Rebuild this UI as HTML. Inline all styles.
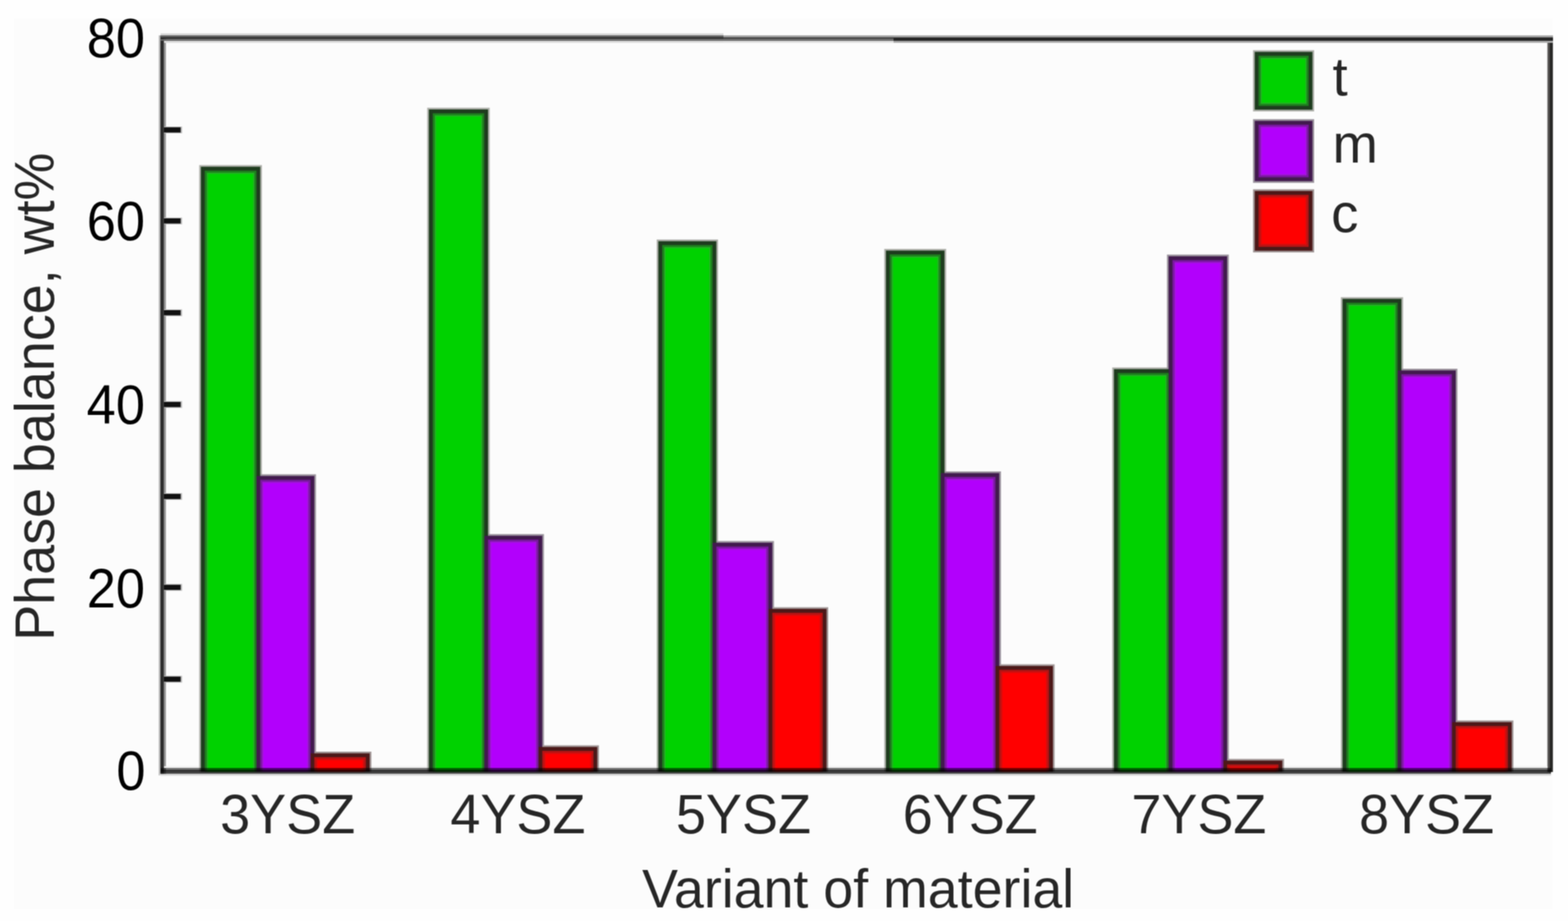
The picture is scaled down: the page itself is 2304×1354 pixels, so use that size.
<!DOCTYPE html>
<html><head><meta charset="utf-8"><title>Phase balance chart</title>
<style>
html,body{margin:0;padding:0;background:#fefefe;}
body{width:2304px;height:1354px;overflow:hidden;}
svg{display:block;font-family:"Liberation Sans", Arial, sans-serif;}
</style></head>
<body>
<svg width="2304" height="1354" viewBox="0 0 2304 1354">
<defs><filter id="soft" x="0" y="0" width="1" height="1" color-interpolation-filters="sRGB"><feConvolveMatrix order="3" kernelMatrix="1 2 1 2 4 2 1 2 1" divisor="16" edgeMode="duplicate" preserveAlpha="true"/></filter></defs>
<g filter="url(#soft)">
<rect x="0" y="0" width="2304" height="1354" fill="#fefefe"/>
<rect x="20" y="27" width="2262" height="1310" fill="#fcfcfc"/>
<rect x="233.00" y="52.00" width="2.50" height="1088.00" fill="#c6c6c6"/>
<rect x="240.80" y="52.00" width="3.00" height="1088.00" fill="#959595"/>
<rect x="2273.00" y="52.00" width="1.20" height="1083.00" fill="#c8c8c8"/>
<rect x="236.00" y="1126.50" width="2043.00" height="2.50" fill="#eeeeee"/>
<rect x="236.00" y="1137.50" width="2043.00" height="3.00" fill="#d8d8d8"/>
<rect x="236.00" y="49.00" width="827.00" height="3.00" fill="#d7d7d7"/>
<rect x="236.00" y="60.00" width="827.00" height="3.00" fill="#dcdcdc"/>
<rect x="1063.00" y="60.00" width="250.00" height="3.00" fill="#dedede"/>
<rect x="240.80" y="186.00" width="26.80" height="10.00" fill="#c0c0c0"/>
<rect x="240.80" y="319.80" width="26.80" height="10.00" fill="#c0c0c0"/>
<rect x="240.80" y="454.80" width="26.80" height="10.00" fill="#c0c0c0"/>
<rect x="240.80" y="589.70" width="26.80" height="10.00" fill="#c0c0c0"/>
<rect x="240.80" y="724.90" width="26.80" height="10.00" fill="#c0c0c0"/>
<rect x="240.80" y="858.50" width="26.80" height="10.00" fill="#c0c0c0"/>
<rect x="240.80" y="993.50" width="26.80" height="10.00" fill="#c0c0c0"/>
<rect x="292.70" y="242.70" width="92.20" height="891.80" fill="#aeb0aa"/>
<rect x="374.30" y="697.30" width="90.00" height="437.20" fill="#9a929c"/>
<rect x="453.70" y="1105.00" width="92.00" height="29.50" fill="#a09696"/>
<rect x="627.70" y="158.40" width="91.90" height="976.10" fill="#aeb0aa"/>
<rect x="709.00" y="785.20" width="90.30" height="349.30" fill="#9a929c"/>
<rect x="788.70" y="1095.70" width="91.40" height="38.80" fill="#a09696"/>
<rect x="964.90" y="352.10" width="90.20" height="782.40" fill="#aeb0aa"/>
<rect x="1044.50" y="795.40" width="92.80" height="339.10" fill="#9a929c"/>
<rect x="1126.70" y="892.70" width="90.30" height="241.80" fill="#a09696"/>
<rect x="1299.30" y="365.90" width="91.00" height="768.60" fill="#aeb0aa"/>
<rect x="1379.70" y="693.00" width="91.10" height="441.50" fill="#9a929c"/>
<rect x="1460.20" y="976.60" width="89.40" height="157.90" fill="#a09696"/>
<rect x="1634.30" y="540.20" width="91.00" height="594.30" fill="#aeb0aa"/>
<rect x="1714.70" y="374.30" width="90.90" height="760.20" fill="#9a929c"/>
<rect x="1795.00" y="1115.70" width="91.70" height="18.80" fill="#a09696"/>
<rect x="1970.20" y="436.90" width="91.50" height="697.60" fill="#aeb0aa"/>
<rect x="2051.10" y="542.10" width="90.40" height="592.40" fill="#9a929c"/>
<rect x="2130.90" y="1059.20" width="92.90" height="75.30" fill="#a09696"/>
<rect x="295.20" y="245.20" width="87.20" height="889.30" fill="#1e3c1e"/>
<rect x="376.80" y="699.80" width="85.00" height="434.70" fill="#421a4e"/>
<rect x="456.20" y="1107.50" width="87.00" height="27.00" fill="#4c1818"/>
<rect x="630.20" y="160.90" width="86.90" height="973.60" fill="#1e3c1e"/>
<rect x="711.50" y="787.70" width="85.30" height="346.80" fill="#421a4e"/>
<rect x="791.20" y="1098.20" width="86.40" height="36.30" fill="#4c1818"/>
<rect x="967.40" y="354.60" width="85.20" height="779.90" fill="#1e3c1e"/>
<rect x="1047.00" y="797.90" width="87.80" height="336.60" fill="#421a4e"/>
<rect x="1129.20" y="895.20" width="85.30" height="239.30" fill="#4c1818"/>
<rect x="1301.80" y="368.40" width="86.00" height="766.10" fill="#1e3c1e"/>
<rect x="1382.20" y="695.50" width="86.10" height="439.00" fill="#421a4e"/>
<rect x="1462.70" y="979.10" width="84.40" height="155.40" fill="#4c1818"/>
<rect x="1636.80" y="542.70" width="86.00" height="591.80" fill="#1e3c1e"/>
<rect x="1717.20" y="376.80" width="85.90" height="757.70" fill="#421a4e"/>
<rect x="1797.50" y="1118.20" width="86.70" height="16.30" fill="#4c1818"/>
<rect x="1972.70" y="439.40" width="86.50" height="695.10" fill="#1e3c1e"/>
<rect x="2053.60" y="544.60" width="85.40" height="589.90" fill="#421a4e"/>
<rect x="2133.40" y="1061.70" width="87.90" height="72.80" fill="#4c1818"/>
<rect x="300.80" y="250.80" width="76.00" height="883.70" fill="#1e7e1e"/>
<rect x="382.40" y="705.40" width="73.80" height="429.10" fill="#7a18a0"/>
<rect x="461.80" y="1113.10" width="75.80" height="21.40" fill="#b41414"/>
<rect x="635.80" y="166.50" width="75.70" height="968.00" fill="#1e7e1e"/>
<rect x="717.10" y="793.30" width="74.10" height="341.20" fill="#7a18a0"/>
<rect x="796.80" y="1103.80" width="75.20" height="30.70" fill="#b41414"/>
<rect x="973.00" y="360.20" width="74.00" height="774.30" fill="#1e7e1e"/>
<rect x="1052.60" y="803.50" width="76.60" height="331.00" fill="#7a18a0"/>
<rect x="1134.80" y="900.80" width="74.10" height="233.70" fill="#b41414"/>
<rect x="1307.40" y="374.00" width="74.80" height="760.50" fill="#1e7e1e"/>
<rect x="1387.80" y="701.10" width="74.90" height="433.40" fill="#7a18a0"/>
<rect x="1468.30" y="984.70" width="73.20" height="149.80" fill="#b41414"/>
<rect x="1642.40" y="548.30" width="74.80" height="586.20" fill="#1e7e1e"/>
<rect x="1722.80" y="382.40" width="74.70" height="752.10" fill="#7a18a0"/>
<rect x="1803.10" y="1123.80" width="75.50" height="10.70" fill="#b41414"/>
<rect x="1978.30" y="445.00" width="75.30" height="689.50" fill="#1e7e1e"/>
<rect x="2059.20" y="550.20" width="74.20" height="584.30" fill="#7a18a0"/>
<rect x="2139.00" y="1067.30" width="76.70" height="67.20" fill="#b41414"/>
<rect x="303.80" y="253.80" width="70.00" height="880.70" fill="#22b422"/>
<rect x="385.40" y="708.40" width="67.80" height="426.10" fill="#a414dc"/>
<rect x="464.80" y="1116.10" width="69.80" height="18.40" fill="#e00a0a"/>
<rect x="638.80" y="169.50" width="69.70" height="965.00" fill="#22b422"/>
<rect x="720.10" y="796.30" width="68.10" height="338.20" fill="#a414dc"/>
<rect x="799.80" y="1106.80" width="69.20" height="27.70" fill="#e00a0a"/>
<rect x="976.00" y="363.20" width="68.00" height="771.30" fill="#22b422"/>
<rect x="1055.60" y="806.50" width="70.60" height="328.00" fill="#a414dc"/>
<rect x="1137.80" y="903.80" width="68.10" height="230.70" fill="#e00a0a"/>
<rect x="1310.40" y="377.00" width="68.80" height="757.50" fill="#22b422"/>
<rect x="1390.80" y="704.10" width="68.90" height="430.40" fill="#a414dc"/>
<rect x="1471.30" y="987.70" width="67.20" height="146.80" fill="#e00a0a"/>
<rect x="1645.40" y="551.30" width="68.80" height="583.20" fill="#22b422"/>
<rect x="1725.80" y="385.40" width="68.70" height="749.10" fill="#a414dc"/>
<rect x="1806.10" y="1126.80" width="69.50" height="7.70" fill="#e00a0a"/>
<rect x="1981.30" y="448.00" width="69.30" height="686.50" fill="#22b422"/>
<rect x="2062.20" y="553.20" width="68.20" height="581.30" fill="#a414dc"/>
<rect x="2142.00" y="1070.30" width="70.70" height="64.20" fill="#e00a0a"/>
<rect x="305.80" y="255.80" width="66.00" height="878.70" fill="#00d200"/>
<rect x="387.40" y="710.40" width="63.80" height="424.10" fill="#b200fc"/>
<rect x="466.80" y="1118.10" width="65.80" height="16.40" fill="#ff0000"/>
<rect x="640.80" y="171.50" width="65.70" height="963.00" fill="#00d200"/>
<rect x="722.10" y="798.30" width="64.10" height="336.20" fill="#b200fc"/>
<rect x="801.80" y="1108.80" width="65.20" height="25.70" fill="#ff0000"/>
<rect x="978.00" y="365.20" width="64.00" height="769.30" fill="#00d200"/>
<rect x="1057.60" y="808.50" width="66.60" height="326.00" fill="#b200fc"/>
<rect x="1139.80" y="905.80" width="64.10" height="228.70" fill="#ff0000"/>
<rect x="1312.40" y="379.00" width="64.80" height="755.50" fill="#00d200"/>
<rect x="1392.80" y="706.10" width="64.90" height="428.40" fill="#b200fc"/>
<rect x="1473.30" y="989.70" width="63.20" height="144.80" fill="#ff0000"/>
<rect x="1647.40" y="553.30" width="64.80" height="581.20" fill="#00d200"/>
<rect x="1727.80" y="387.40" width="64.70" height="747.10" fill="#b200fc"/>
<rect x="1808.10" y="1128.80" width="65.50" height="5.70" fill="#ff0000"/>
<rect x="1983.30" y="450.00" width="65.30" height="684.50" fill="#00d200"/>
<rect x="2064.20" y="555.20" width="64.20" height="579.30" fill="#b200fc"/>
<rect x="2144.00" y="1072.30" width="66.70" height="62.20" fill="#ff0000"/>
<rect x="235.50" y="52.00" width="5.30" height="1085.50" fill="#2c2c2c"/>
<rect x="2274.20" y="52.00" width="2.50" height="1083.00" fill="#444240"/>
<rect x="2276.70" y="52.00" width="5.10" height="1083.00" fill="#282826"/>
<rect x="236.00" y="1129.00" width="2043.00" height="3.00" fill="rgba(0,0,0,0.56)"/>
<rect x="236.00" y="1132.00" width="2043.00" height="2.80" fill="rgba(0,0,0,0.84)"/>
<rect x="236.00" y="1134.80" width="2043.00" height="2.70" fill="rgba(20,20,20,0.82)"/>
<rect x="236.00" y="52.00" width="827.00" height="3.00" fill="#606060"/>
<rect x="236.00" y="55.00" width="827.00" height="2.40" fill="#242424"/>
<rect x="236.00" y="57.40" width="827.00" height="2.60" fill="#656565"/>
<rect x="1063.00" y="52.00" width="250.00" height="3.00" fill="#a0a0a0"/>
<rect x="1063.00" y="55.00" width="250.00" height="2.40" fill="#383838"/>
<rect x="1063.00" y="57.40" width="250.00" height="2.60" fill="#656565"/>
<rect x="1313.00" y="52.00" width="969.00" height="3.00" fill="#a5a5a5"/>
<rect x="1313.00" y="55.00" width="969.00" height="5.00" fill="#262626"/>
<rect x="1313.00" y="60.00" width="969.00" height="3.00" fill="#aaaaaa"/>
<rect x="240.80" y="187.20" width="24.70" height="7.60" fill="#101010"/>
<rect x="240.80" y="321.00" width="24.70" height="7.60" fill="#101010"/>
<rect x="240.80" y="456.00" width="24.70" height="7.60" fill="#101010"/>
<rect x="240.80" y="590.90" width="24.70" height="7.60" fill="#101010"/>
<rect x="240.80" y="726.10" width="24.70" height="7.60" fill="#101010"/>
<rect x="240.80" y="859.70" width="24.70" height="7.60" fill="#101010"/>
<rect x="240.80" y="994.70" width="24.70" height="7.60" fill="#101010"/>
<text transform="translate(213.72 1161.09) scale(0.9500 1)" text-anchor="end" font-size="81.00" fill="#000">0</text>
<text transform="translate(213.07 892.86) scale(0.9500 1)" text-anchor="end" font-size="81.00" fill="#000">20</text>
<text transform="translate(212.94 622.86) scale(0.9500 1)" text-anchor="end" font-size="81.00" fill="#000">40</text>
<text transform="translate(213.07 352.63) scale(0.9500 1)" text-anchor="end" font-size="81.00" fill="#000">60</text>
<text transform="translate(213.11 84.09) scale(0.9500 1)" text-anchor="end" font-size="81.00" fill="#000">80</text>
<text transform="translate(422.66 1225.28) scale(0.9711 1)" text-anchor="middle" font-size="81.68" fill="#262626">3YSZ</text>
<text transform="translate(760.99 1225.28) scale(0.9711 1)" text-anchor="middle" font-size="81.68" fill="#262626">4YSZ</text>
<text transform="translate(1092.45 1225.28) scale(0.9711 1)" text-anchor="middle" font-size="81.68" fill="#262626">5YSZ</text>
<text transform="translate(1425.65 1225.28) scale(0.9711 1)" text-anchor="middle" font-size="81.68" fill="#262626">6YSZ</text>
<text transform="translate(1761.60 1225.28) scale(0.9711 1)" text-anchor="middle" font-size="81.68" fill="#262626">7YSZ</text>
<text transform="translate(2096.30 1225.28) scale(0.9711 1)" text-anchor="middle" font-size="81.68" fill="#262626">8YSZ</text>
<text transform="translate(1260.92 1333.89) scale(0.9806 1)" text-anchor="middle" font-size="80.54" fill="#262626">Variant of material</text>
<text transform="translate(79.23 583.13) rotate(-90) scale(0.9660 1)" text-anchor="middle" font-size="82.00" fill="#262626">Phase balance, wt%</text>
<rect x="1841.20" y="73.80" width="89.80" height="90.00" fill="#aeb0aa"/>
<rect x="1843.70" y="76.30" width="84.80" height="85.00" fill="#1e3c1e"/>
<rect x="1849.30" y="81.90" width="73.60" height="73.80" fill="#1e7e1e"/>
<rect x="1852.30" y="84.90" width="67.60" height="67.80" fill="#22b422"/>
<rect x="1854.30" y="86.90" width="63.60" height="63.80" fill="#00d200"/>
<rect x="1841.20" y="175.20" width="89.80" height="93.60" fill="#9a929c"/>
<rect x="1843.70" y="177.70" width="84.80" height="88.60" fill="#421a4e"/>
<rect x="1849.30" y="183.30" width="73.60" height="77.40" fill="#7a18a0"/>
<rect x="1852.30" y="186.30" width="67.60" height="71.40" fill="#a414dc"/>
<rect x="1854.30" y="188.30" width="63.60" height="67.40" fill="#b200fc"/>
<rect x="1841.20" y="278.30" width="89.80" height="92.80" fill="#a09696"/>
<rect x="1843.70" y="280.80" width="84.80" height="87.80" fill="#4c1818"/>
<rect x="1849.30" y="286.40" width="73.60" height="76.60" fill="#b41414"/>
<rect x="1852.30" y="289.40" width="67.60" height="70.60" fill="#e00a0a"/>
<rect x="1854.30" y="291.40" width="63.60" height="66.60" fill="#ff0000"/>
<text transform="translate(1958.00 139.50)" text-anchor="start" font-size="80.00" fill="#262626">t</text>
<text transform="translate(1958.00 239.00)" text-anchor="start" font-size="80.00" fill="#262626">m</text>
<text transform="translate(1956.00 341.00)" text-anchor="start" font-size="80.00" fill="#262626">c</text>
</g>
</svg>
</body></html>
